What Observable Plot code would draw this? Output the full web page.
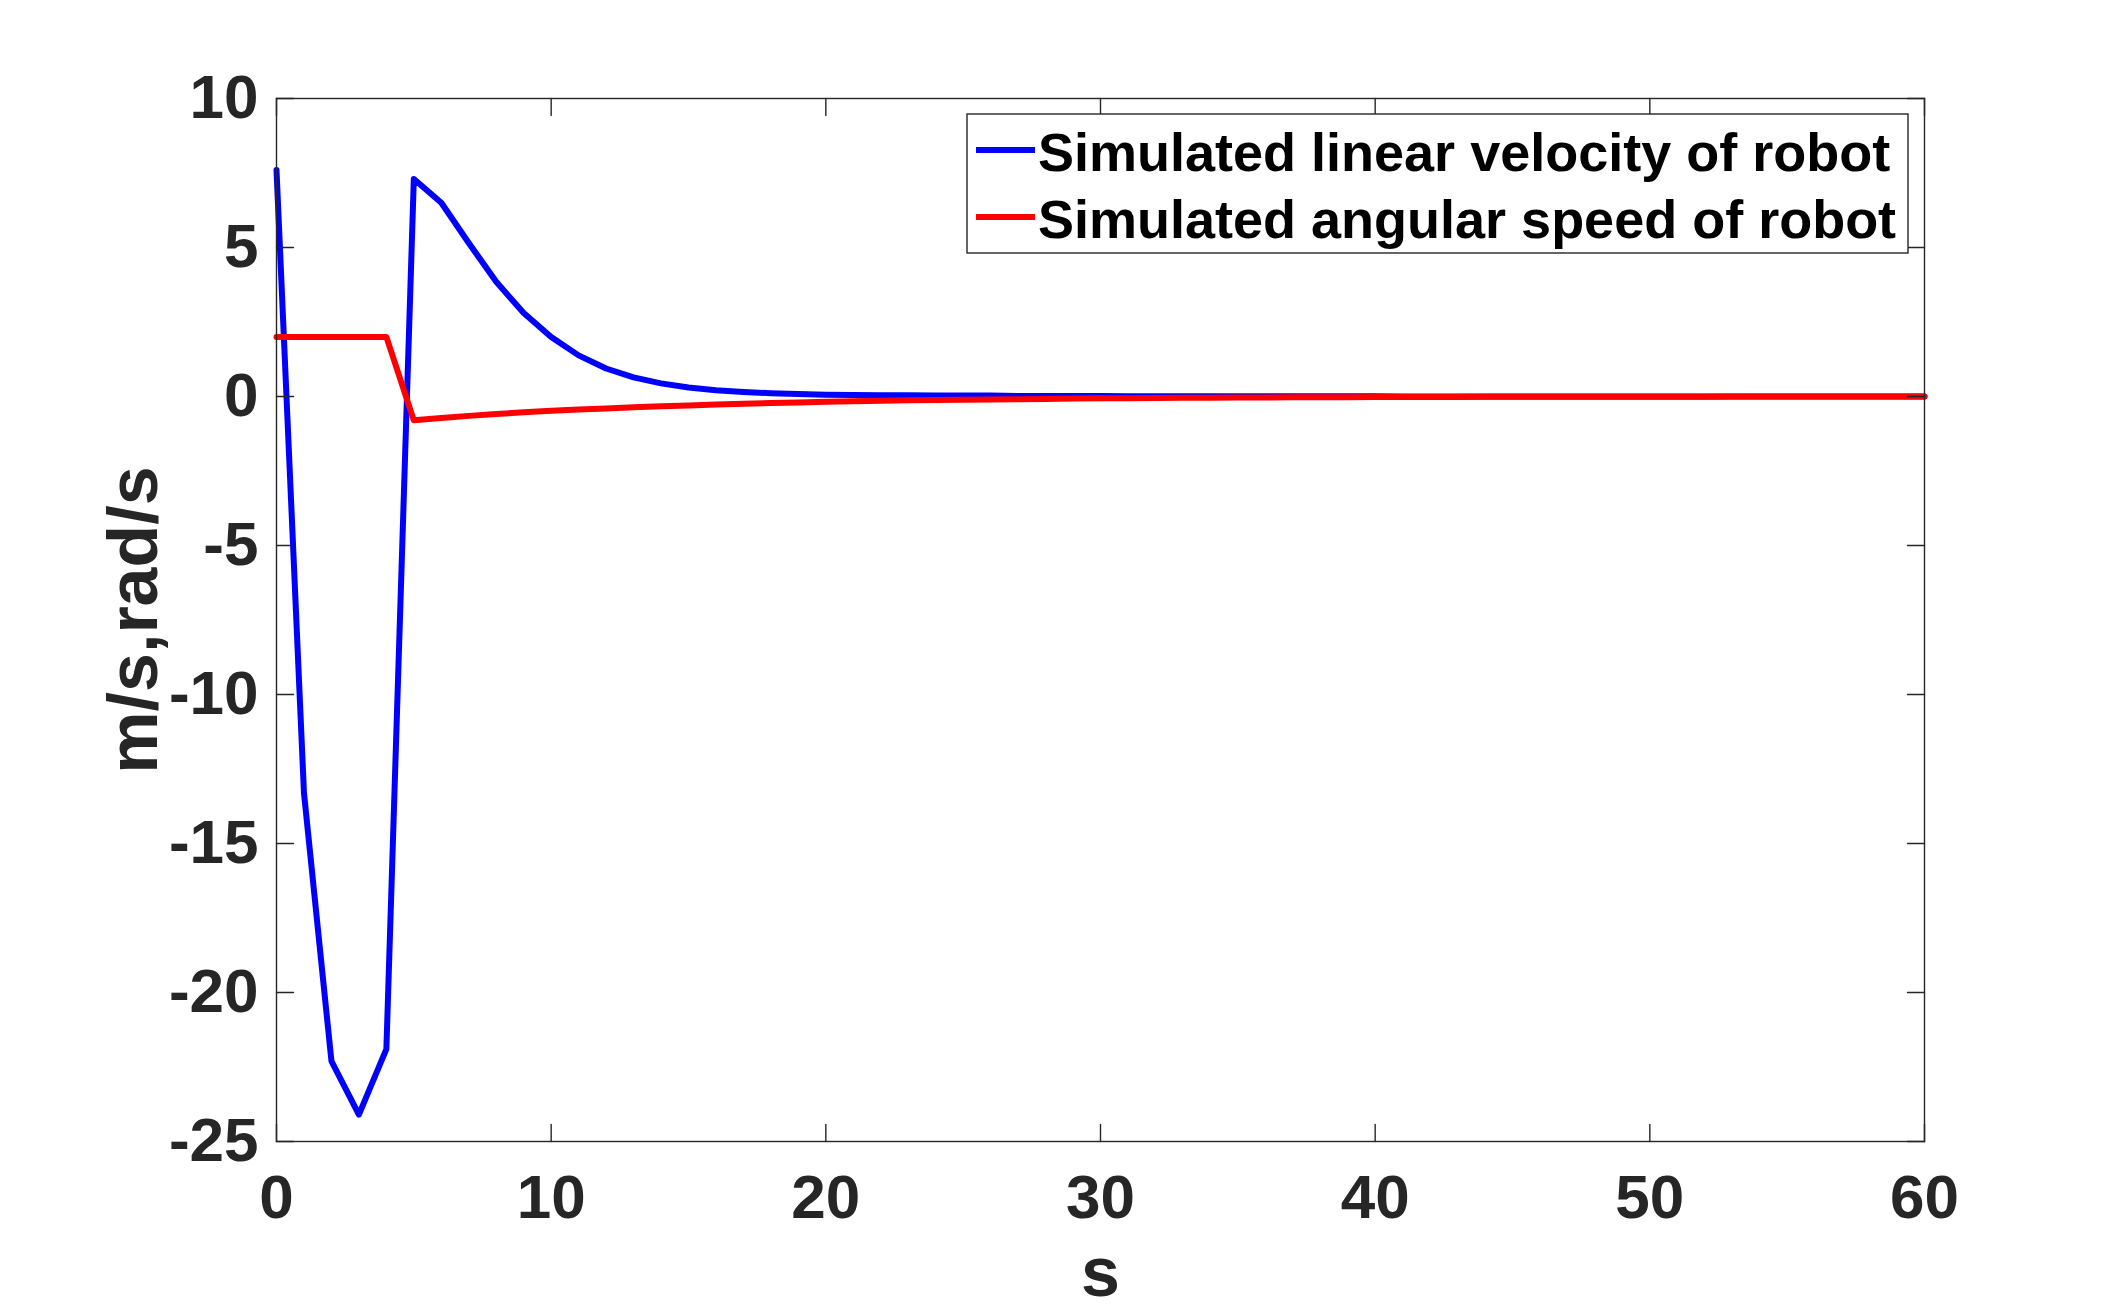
<!DOCTYPE html>
<html>
<head>
<meta charset="utf-8">
<script src="https://cdn.jsdelivr.net/npm/d3@7"></script>
<script src="https://cdn.jsdelivr.net/npm/@observablehq/plot@0.6"></script>
<style>
  html, body { margin: 0; padding: 0; background: #ffffff; }
  #chart svg { display: block; }
</style>
</head>
<body>
<div id="chart"></div>
<script>
// ---- data ----
const time = [0,1,2,3,4,5,6,7,8,9,10,11,12,13,14,15,16,17,18,19,20,
  21,22,23,24,25,26,27,28,29,30,31,32,33,34,35,36,37,38,39,40,
  41,42,43,44,45,46,47,48,49,50,51,52,53,54,55,56,57,58,59,60];

const linearVelocity = [7.6,-13.3,-22.3,-24.1,-21.9,7.3,6.5,5.15,3.85,2.8,2.0,
  1.38,0.94,0.64,0.44,0.30,0.21,0.15,0.11,0.08,0.06,
  0.05,0.04,0.04,0.03,0.03,0.03,0.02,0.02,0.02,0.02,
  0.01,0.01,0.01,0.01,0.01,0.01,0.01,0.01,0.01,0.01,
  0,0,0,0,0,0,0,0,0,0,
  0,0,0,0,0,0,0,0,0,0];

const angularSpeed = [2,2,2,2,2,-0.80,-0.72,-0.65,-0.59,-0.53,-0.48,
  -0.44,-0.40,-0.36,-0.33,-0.30,-0.27,-0.24,-0.22,-0.20,-0.18,
  -0.16,-0.14,-0.13,-0.12,-0.11,-0.10,-0.09,-0.08,-0.07,-0.06,
  -0.055,-0.05,-0.045,-0.04,-0.036,-0.032,-0.028,-0.025,-0.022,-0.02,
  -0.018,-0.016,-0.014,-0.012,-0.011,-0.01,-0.009,-0.008,-0.007,-0.006,
  -0.005,-0.005,-0.004,-0.004,-0.003,-0.003,-0.002,-0.002,-0.001,0];

const seriesNames = ["Simulated linear velocity of robot", "Simulated angular speed of robot"];
const seriesColors = ["#0000ff", "#ff0000"];
const xTicks = [0,10,20,30,40,50,60];
const yTicks = [10,5,0,-5,-10,-15,-20,-25];
const xLabel = "s";
const yLabel = "m/s,rad/s";

// ---- build table ----
const linearRows = time.map((t, i) => ({t, v: linearVelocity[i]}));
const angularRows = time.map((t, i) => ({t, v: angularSpeed[i]}));

const FONT = "'Liberation Sans', Arial, Helvetica, sans-serif";
const AXIS = "#262626";
const tickShape = {draw(ctx, l) { ctx.moveTo(0, 0); ctx.lineTo(0, -l); }};
const TL = 17;
const LW = 6;

const plot = Plot.plot({
  width: 2126,
  height: 1312,
  marginLeft: 276,
  marginRight: 202,
  marginTop: 98,
  marginBottom: 171,
  style: {fontFamily: FONT, background: "#ffffff"},
  x: {domain: [0, 60]},
  y: {domain: [-25, 10]},
  marks: [
    Plot.line(linearRows, {x: "t", y: "v", stroke: seriesColors[0], strokeWidth: LW, strokeLinejoin: "round"}),
    Plot.line(angularRows, {x: "t", y: "v", stroke: seriesColors[1], strokeWidth: LW, strokeLinejoin: "round"}),
    Plot.frame({stroke: AXIS, strokeWidth: 1.4}),
    // inward ticks on all four sides
    Plot.vector(xTicks, {x: d => d, frameAnchor: "bottom", length: TL, rotate: 0, anchor: "start", shape: tickShape, stroke: AXIS, strokeWidth: 1.4}),
    Plot.vector(xTicks, {x: d => d, frameAnchor: "top", length: TL, rotate: 180, anchor: "start", shape: tickShape, stroke: AXIS, strokeWidth: 1.4}),
    Plot.vector(yTicks, {y: d => d, frameAnchor: "left", length: TL, rotate: 90, anchor: "start", shape: tickShape, stroke: AXIS, strokeWidth: 1.4}),
    Plot.vector(yTicks, {y: d => d, frameAnchor: "right", length: TL, rotate: -90, anchor: "start", shape: tickShape, stroke: AXIS, strokeWidth: 1.4}),
    Plot.axisX({ticks: xTicks, tickSize: 0, tickPadding: 32, fontSize: 62, fontWeight: "bold", fill: AXIS, label: null, tickFormat: d => String(d)}),
    Plot.axisY({ticks: yTicks, tickSize: 0, tickPadding: 18, fontSize: 62, fontWeight: "bold", fill: AXIS, label: null, tickFormat: d => String(d)}),
    Plot.text([xLabel], {frameAnchor: "bottom", dy: 132, text: d => d, fontSize: 70, fontWeight: "bold", fill: AXIS, textAnchor: "middle", lineAnchor: "middle"}),
    Plot.text([yLabel], {frameAnchor: "left", dx: -142, text: d => d, rotate: -90, fontSize: 70, fontWeight: "bold", fill: AXIS, textAnchor: "middle", lineAnchor: "middle"})
  ]
});

document.getElementById("chart").appendChild(plot);

// ---- legend box inside the axes (top-right) ----
const svg = d3.select(plot);
const [fx0, fx1] = plot.scale("x").range;
const [fyB, fyT] = plot.scale("y").range;
const boxRight = fx1 - 16, boxTop = fyT + 16;
const boxLeft = fx1 - 957, boxBottom = fyT + 155;
const g = svg.append("g").attr("class", "legend");
g.append("rect")
  .attr("x", boxLeft).attr("y", boxTop)
  .attr("width", boxRight - boxLeft).attr("height", boxBottom - boxTop)
  .attr("fill", "#ffffff").attr("stroke", AXIS).attr("stroke-width", 1.4);
const rowsY = [fyT + 52, fyT + 119];
seriesNames.forEach((name, i) => {
  g.append("line")
    .attr("x1", boxLeft + 9).attr("x2", boxLeft + 68)
    .attr("y1", rowsY[i]).attr("y2", rowsY[i])
    .attr("stroke", seriesColors[i]).attr("stroke-width", LW);
  g.append("text")
    .attr("x", boxLeft + 71).attr("y", rowsY[i] + 21)
    .attr("text-anchor", "start")
    .attr("font-family", FONT).attr("font-weight", "bold").attr("font-size", 54)
    .attr("fill", "#000000")
    .text(name);
});
</script>
</body>
</html>
